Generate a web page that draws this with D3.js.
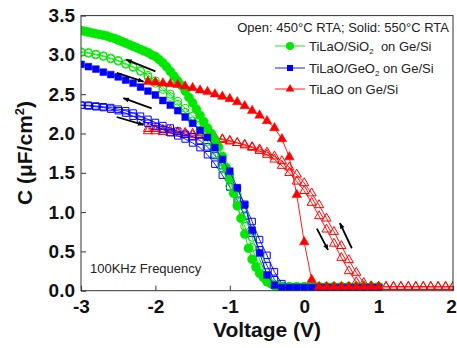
<!DOCTYPE html>
<html>
<head>
<meta charset="utf-8">
<script src="https://cdn.jsdelivr.net/npm/d3@7"></script>
<style>
  body { margin: 0; background: #fff; }
  svg { font-family: Arial, 'Liberation Sans', sans-serif; }
</style>
</head>
<body>
<div id="chart"></div>
<script>
// gate voltage sweeps (V)
const vGreenSolid = [-3.00, -2.95, -2.90, -2.85, -2.80, -2.75, -2.70, -2.65, -2.60, -2.55,
  -2.50, -2.45, -2.40, -2.35, -2.30, -2.25, -2.20, -2.15, -2.10, -2.05,
  -2.00, -1.95, -1.90, -1.85, -1.80, -1.75, -1.70, -1.65, -1.60, -1.55,
  -1.50, -1.45, -1.40, -1.35, -1.30, -1.25, -1.20, -1.15, -1.10, -1.05,
  -1.00, -0.95, -0.90, -0.85, -0.80, -0.75, -0.70, -0.65, -0.60, -0.55,
  -0.50, -0.45, -0.40, -0.35, -0.30, -0.2, -0.1, 0.0, 0.1, 0.2, 0.3, 0.4, 0.5,
  0.6, 0.7, 0.8, 0.9, 1.0];
const vSweep = [-3.0, -2.9, -2.8, -2.7, -2.6, -2.5, -2.4, -2.3, -2.2, -2.1,
  -2.0, -1.9, -1.8, -1.7, -1.6, -1.5, -1.4, -1.3, -1.2, -1.1,
  -1.0, -0.9, -0.8, -0.7, -0.6, -0.5, -0.4, -0.3, -0.2, -0.1,
  0.0, 0.1, 0.2, 0.3, 0.4, 0.5, 0.6, 0.7, 0.8, 0.9, 1.0];
const vRedSolid = [-2.1, -2.0, -1.9, -1.8, -1.7, -1.6, -1.5, -1.4, -1.3, -1.2,
  -1.1, -1.0, -0.9, -0.8, -0.7, -0.6, -0.5, -0.4, -0.3, -0.2,
  -0.1, 0.0, 0.1, 0.2, 0.3, 0.4, 0.5, 0.6, 0.7, 0.8, 0.9, 1.0];
const vRedOpen = [-2.1, -2.0, -1.9, -1.8, -1.7, -1.6, -1.5, -1.4, -1.3, -1.2,
  -1.1, -1.0, -0.9, -0.8, -0.7, -0.6, -0.5, -0.4, -0.3, -0.2,
  -0.1, 0.0, 0.1, 0.2, 0.3, 0.4, 0.5, 0.6, 0.7, 0.8, 0.9,
  1.0, 1.1, 1.2, 1.3, 1.4, 1.5, 1.6, 1.7, 1.8, 1.9, 2.0];

// capacitance (uF/cm2)
const cGreenSolid = [3.31, 3.30, 3.29, 3.28, 3.27, 3.26, 3.25, 3.24, 3.22, 3.21,
  3.19, 3.17, 3.15, 3.13, 3.11, 3.09, 3.07, 3.05, 3.03, 3.00,
  2.98, 2.94, 2.90, 2.85, 2.79, 2.73, 2.67, 2.61, 2.54, 2.46,
  2.39, 2.31, 2.23, 2.15, 2.07, 2.00, 1.92, 1.83, 1.71, 1.57,
  1.42, 1.24, 1.08, 0.92, 0.72, 0.54, 0.40, 0.30, 0.22, 0.17,
  0.12, 0.09, 0.07, 0.06, 0.05, 0.05, 0.05, 0.05, 0.05, 0.05, 0.05, 0.05, 0.05,
  0.05, 0.05, 0.05, 0.05, 0.05];
const cGreenOpenA = [3.04, 3.03, 3.01, 2.99, 2.96, 2.93, 2.89, 2.85, 2.80, 2.74,
  2.67, 2.59, 2.50, 2.41, 2.32, 2.22, 2.11, 1.98, 1.83, 1.66,
  1.46, 1.22, 0.96, 0.68, 0.40, 0.17, 0.07, 0.05, 0.05, 0.05,
  0.05, 0.05, 0.05, 0.05, 0.05, 0.05, 0.05, 0.05, 0.05, 0.05, 0.05];
const cGreenOpenB = [3.03, 3.02, 3.00, 2.98, 2.95, 2.92, 2.88, 2.84, 2.79, 2.72,
  2.64, 2.56, 2.47, 2.37, 2.27, 2.16, 2.04, 1.90, 1.74, 1.55,
  1.33, 1.08, 0.82, 0.55, 0.29, 0.11, 0.06, 0.05, 0.05, 0.05,
  0.05, 0.05, 0.05, 0.05, 0.05, 0.05, 0.05, 0.05, 0.05, 0.05, 0.05];
const cBlueSolid = [2.88, 2.85, 2.82, 2.78, 2.75, 2.72, 2.68, 2.64, 2.59, 2.54,
  2.49, 2.42, 2.36, 2.29, 2.21, 2.13, 2.04, 1.95, 1.82, 1.67,
  1.52, 1.31, 1.09, 0.77, 0.48, 0.20, 0.07, 0.04, 0.04, 0.04,
  0.04, 0.04, 0.04, 0.04, 0.04, 0.04, 0.04, 0.04, 0.04, 0.04, 0.04];
const cBlueOpenA = [2.36, 2.36, 2.35, 2.34, 2.33, 2.31, 2.29, 2.26, 2.22, 2.18,
  2.14, 2.10, 2.07, 2.03, 1.99, 1.96, 1.91, 1.83, 1.72, 1.59,
  1.45, 1.30, 1.10, 0.88, 0.65, 0.45, 0.24, 0.09, 0.05, 0.05,
  0.05, 0.05, 0.05, 0.05, 0.05, 0.05, 0.05, 0.05, 0.05, 0.05, 0.05];
const cBlueOpenB = [2.36, 2.35, 2.34, 2.33, 2.31, 2.29, 2.26, 2.22, 2.17, 2.13,
  2.09, 2.05, 2.01, 1.97, 1.93, 1.88, 1.82, 1.73, 1.61, 1.47,
  1.32, 1.15, 0.95, 0.73, 0.52, 0.32, 0.14, 0.06, 0.05, 0.05,
  0.05, 0.05, 0.05, 0.05, 0.05, 0.05, 0.05, 0.05, 0.05, 0.05, 0.05];
const cRedSolid = [2.66, 2.65, 2.64, 2.63, 2.62, 2.60, 2.58, 2.55, 2.53, 2.50,
  2.47, 2.44, 2.40, 2.35, 2.29, 2.23, 2.16, 2.07, 1.93, 1.70,
  1.22, 0.62, 0.14, 0.05, 0.05, 0.05, 0.05, 0.05, 0.05, 0.05, 0.05, 0.05];
const cRedOpenA = [2.06, 2.06, 2.05, 2.04, 2.02, 2.01, 2.00, 1.98, 1.96, 1.95,
  1.93, 1.91, 1.88, 1.85, 1.82, 1.78, 1.73, 1.67, 1.59, 1.50,
  1.39, 1.27, 1.12, 0.95, 0.78, 0.60, 0.42, 0.25, 0.11, 0.06, 0.05,
  0.05, 0.05, 0.05, 0.05, 0.05, 0.05, 0.05, 0.05, 0.05, 0.05, 0.05];
const cRedOpenB = [2.03, 2.03, 2.02, 2.01, 2.00, 1.99, 1.98, 1.97, 1.95, 1.94,
  1.92, 1.90, 1.88, 1.86, 1.83, 1.80, 1.76, 1.71, 1.65, 1.57,
  1.48, 1.37, 1.24, 1.09, 0.92, 0.75, 0.57, 0.39, 0.23, 0.10, 0.06,
  0.05, 0.05, 0.05, 0.05, 0.05, 0.05, 0.05, 0.05, 0.05, 0.05, 0.05];

const xTicks = [-3, -2, -1, 0, 1, 2];
const yTicks = [0, 0.5, 1.0, 1.5, 2.0, 2.5, 3.0, 3.5];
const legendTitle = 'Open: 450\u00B0C RTA; Solid: 550\u00B0C RTA';
const legendNames = [['TiLaO/SiO', '2', '  on Ge/Si'], ['TiLaO/GeO', '2', ' on Ge/Si'], ['TiLaO on Ge/Si', '', '']];

// sweep direction arrows [from, to] in data units
const arrows = [
  [[-2.00, 2.79], [-2.39, 2.94]],
  [[-2.52, 2.77], [-2.16, 2.66]],
  [[-2.05, 2.32], [-2.43, 2.45]],
  [[-2.52, 2.21], [-2.16, 2.11]],
  [[0.17, 0.79], [0.32, 0.52]],
  [[0.64, 0.54], [0.48, 0.86]]
];

const green = '#00e800', blue = '#0000ff', red = '#ff0000';
const series = [
  {v: vRedOpen, c: cRedOpenA, shape: d3.symbolTriangle, size: 36, color: red, filled: false},
  {v: vRedOpen, c: cRedOpenB, shape: d3.symbolTriangle, size: 36, color: red, filled: false},
  {v: vSweep, c: cBlueOpenA, shape: d3.symbolSquare, size: 42, color: blue, filled: false},
  {v: vSweep, c: cBlueOpenB, shape: d3.symbolSquare, size: 42, color: blue, filled: false},
  {v: vSweep, c: cGreenOpenA, shape: d3.symbolCircle, size: 50, color: green, filled: false},
  {v: vSweep, c: cGreenOpenB, shape: d3.symbolCircle, size: 50, color: green, filled: false},
  {v: vGreenSolid, c: cGreenSolid, shape: d3.symbolCircle, size: 64, color: green, filled: true},
  {v: vSweep, c: cBlueSolid, shape: d3.symbolSquare, size: 46, color: blue, filled: true},
  {v: vRedSolid, c: cRedSolid, shape: d3.symbolTriangle, size: 40, color: red, filled: true}
];

const width = 457, height = 348;
const margin = {top: 15.6, right: 4, bottom: 57.3, left: 81};
const plotW = width - margin.left - margin.right;
const plotH = height - margin.top - margin.bottom;

const svg = d3.select('#chart').append('svg')
  .attr('width', width)
  .attr('height', height);

const x = d3.scaleLinear().domain([-3, 2]).range([margin.left, margin.left + plotW]);
const y = d3.scaleLinear().domain([0, 3.5]).range([margin.top + plotH, margin.top]);

const defs = svg.append('defs');
defs.append('clipPath').attr('id', 'plot-clip')
  .append('rect')
  .attr('x', margin.left).attr('y', margin.top)
  .attr('width', plotW).attr('height', plotH);

const marker = defs.append('marker')
  .attr('id', 'arrowhead')
  .attr('viewBox', '0 0 10 10')
  .attr('refX', 9).attr('refY', 5)
  .attr('markerWidth', 9).attr('markerHeight', 6)
  .attr('orient', 'auto')
  .attr('markerUnits', 'userSpaceOnUse');
marker.append('path').attr('d', 'M0,1 L10,5 L0,9 Z').attr('fill', '#000');

// axes (ticks point inward)
const xAxis = d3.axisBottom(x).tickValues(xTicks).tickSizeInner(-5).tickSizeOuter(0)
  .tickPadding(9).tickFormat(d => String(d));
const yAxis = d3.axisLeft(y).tickValues(yTicks).tickSizeInner(-5).tickSizeOuter(0)
  .tickPadding(6).tickFormat(d3.format('.1f'));

svg.append('g')
  .attr('transform', `translate(0,${margin.top + plotH})`)
  .call(xAxis)
  .call(g => g.select('.domain').remove())
  .call(g => g.selectAll('.tick text').filter(d => d === 2).attr('dx', -2));
svg.append('g')
  .attr('transform', `translate(${margin.left},0)`)
  .call(yAxis)
  .call(g => g.select('.domain').remove());

svg.selectAll('.tick line').attr('stroke', '#333');
svg.selectAll('.tick text')
  .attr('fill', '#111')
  .style('font-size', '19px')
  .style('font-weight', 'bold')
  .style('font-family', 'Arial, "Liberation Sans", sans-serif');

const plot = svg.append('g').attr('clip-path', 'url(#plot-clip)');
const line = d3.line().x(d => x(d[0])).y(d => y(d[1]));

series.forEach(s => {
  const pts = d3.zip(s.v, s.c);
  plot.append('path')
    .datum(pts)
    .attr('d', line)
    .attr('fill', 'none')
    .attr('stroke', s.color)
    .attr('stroke-width', 0.9);
  plot.append('g').selectAll('path')
    .data(pts)
    .join('path')
    .attr('transform', d => `translate(${x(d[0])},${y(d[1])})`)
    .attr('d', d3.symbol(s.shape, s.size))
    .attr('fill', s.filled ? s.color : 'none')
    .attr('stroke', s.color)
    .attr('stroke-width', s.filled ? 0.5 : 1);
});

svg.append('g').selectAll('line')
  .data(arrows)
  .join('line')
  .attr('x1', d => x(d[0][0])).attr('y1', d => y(d[0][1]))
  .attr('x2', d => x(d[1][0])).attr('y2', d => y(d[1][1]))
  .attr('stroke', '#000')
  .attr('stroke-width', 1.8)
  .attr('marker-end', 'url(#arrowhead)');

// frame
svg.append('rect')
  .attr('x', margin.left).attr('y', margin.top)
  .attr('width', plotW).attr('height', plotH)
  .attr('fill', 'none')
  .attr('stroke', '#333')
  .attr('stroke-width', 1);

// legend
svg.append('text')
  .attr('x', 449).attr('y', 32)
  .attr('text-anchor', 'end')
  .style('font-size', '13px')
  .attr('fill', '#222')
  .text(legendTitle);

const legendSeries = [series[6], series[7], series[8]];
const legendY = [46, 68, 89];
legendSeries.forEach((s, i) => {
  const g = svg.append('g').attr('transform', `translate(0,${legendY[i]})`);
  g.append('line').attr('x1', 275).attr('x2', 305).attr('y1', 0).attr('y2', 0)
    .attr('stroke', s.color).attr('stroke-width', 0.9);
  g.append('path').attr('transform', 'translate(290,0)')
    .attr('d', d3.symbol(s.shape, s.size * 0.8))
    .attr('fill', s.color);
  const t = g.append('text').attr('x', 309).attr('y', 5)
    .style('font-size', '13px').attr('fill', '#222')
    .attr('xml:space', 'preserve');
  t.append('tspan').text(legendNames[i][0]);
  if (legendNames[i][1]) {
    t.append('tspan').attr('dy', 3).style('font-size', '8px').text(legendNames[i][1]);
    t.append('tspan').attr('dy', -3).text(legendNames[i][2]);
  }
});

svg.append('text')
  .attr('x', 90).attr('y', 273)
  .style('font-size', '13px')
  .attr('fill', '#222')
  .text('100KHz Frequency');

// axis titles
svg.append('text')
  .attr('x', margin.left + plotW / 2).attr('y', 337)
  .attr('text-anchor', 'middle')
  .style('font-size', '21px').style('font-weight', 'bold')
  .attr('fill', '#111')
  .text('Voltage (V)');

const yTitle = svg.append('text')
  .attr('transform', 'translate(32,153) rotate(-90)')
  .attr('text-anchor', 'middle')
  .style('font-size', '21px').style('font-weight', 'bold')
  .attr('fill', '#111');
yTitle.append('tspan').text('C (\u03BCF/cm');
yTitle.append('tspan').attr('dy', -8).style('font-size', '13px').text('2');
yTitle.append('tspan').attr('dy', 8).text(')');
</script>
</body>
</html>
